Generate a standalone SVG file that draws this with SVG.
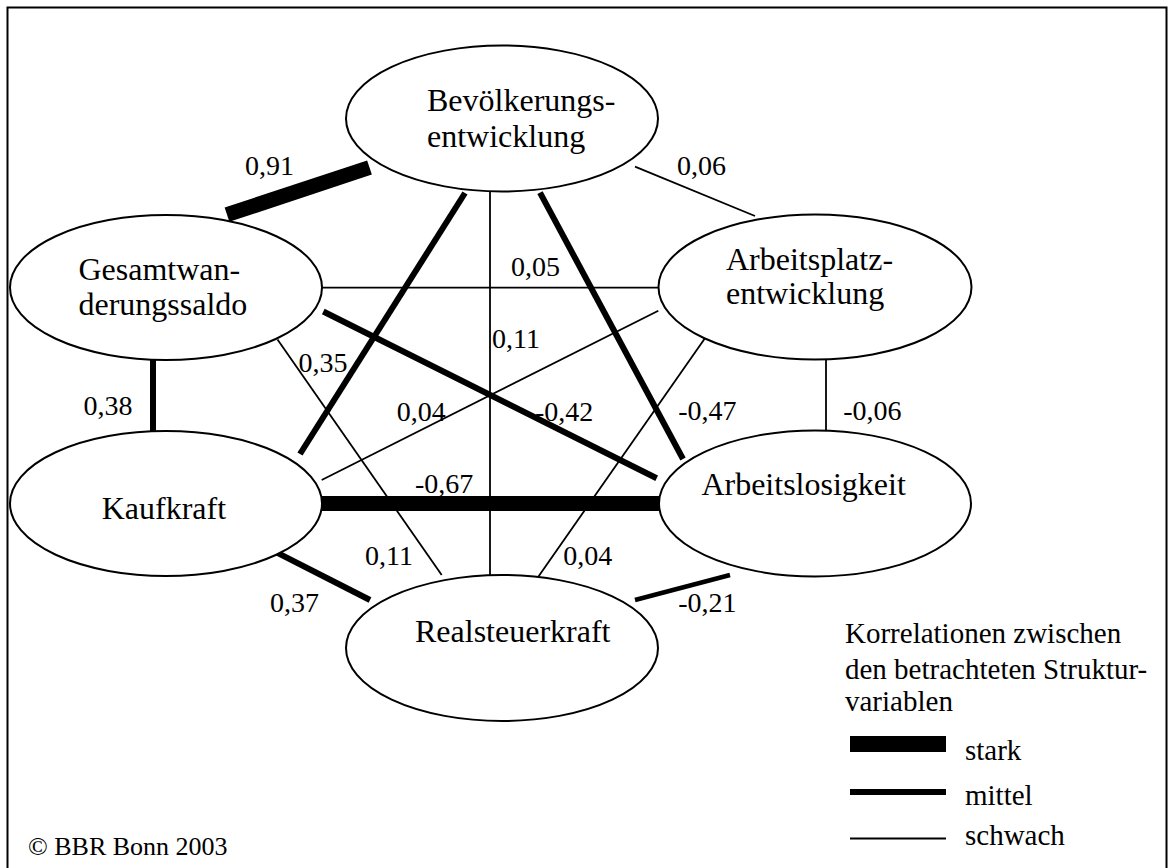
<svg xmlns="http://www.w3.org/2000/svg" width="1175" height="868" viewBox="0 0 1175 868">
<style>
text{font-family:"Liberation Serif","Times New Roman",serif;fill:#000}
.node{font-size:32px}
.lbl{font-size:28px}
.leg{font-size:29px}
.copy{font-size:26px}
ellipse{fill:#fff;stroke:#000;stroke-width:2}
.stark{stroke:#000;stroke-width:15;fill:none}
.mittel{stroke:#000;stroke-width:6;fill:none}
.schwach{stroke:#000;stroke-width:1.8;fill:none}
</style>
<rect x="7.5" y="7.5" width="1159" height="880" fill="#fff" stroke="#000" stroke-width="2"/>
<g id="connectors">
<line class="stark" x1="227" y1="214.7" x2="369.5" y2="167.5"/>
<line class="schwach" x1="635" y1="166.7" x2="755" y2="216"/>
<line class="mittel" x1="465" y1="193" x2="300" y2="454"/>
<line class="schwach" x1="490" y1="191" x2="490" y2="575"/>
<line class="mittel" x1="540" y1="192.7" x2="683" y2="459"/>
<line class="schwach" x1="322" y1="287.7" x2="658.5" y2="287.7"/>
<line class="mittel" x1="153" y1="360" x2="153" y2="431"/>
<line class="schwach" x1="277.5" y1="339.5" x2="441.7" y2="575"/>
<line class="mittel" x1="323.3" y1="311.5" x2="656.7" y2="478.3"/>
<line class="schwach" x1="658.3" y1="310.7" x2="321.7" y2="480"/>
<line class="schwach" x1="706.7" y1="335.7" x2="538.3" y2="576.7"/>
<line class="schwach" x1="826" y1="359.3" x2="826" y2="431"/>
<line class="stark" x1="322" y1="503.5" x2="659" y2="503.5"/>
<line class="mittel" x1="275" y1="551.7" x2="370" y2="600"/>
<line class="mittel" x1="635" y1="600" x2="730" y2="575" style="stroke-width:4.5"/>
</g>
<g id="node-bevoelkerung">
<ellipse cx="502" cy="118.5" rx="156" ry="73"/>
<text class="node" x="427" y="111">Bevölkerungs-</text>
<text class="node" x="427" y="147">entwicklung</text>
</g>
<g id="node-gesamtwanderung">
<ellipse cx="166" cy="287.5" rx="156" ry="72.5"/>
<text class="node" x="78.5" y="280">Gesamtwan-</text>
<text class="node" x="78.5" y="315">derungssaldo</text>
</g>
<g id="node-arbeitsplatz">
<ellipse cx="815" cy="287" rx="156.5" ry="72.5"/>
<text class="node" x="726" y="270">Arbeitsplatz-</text>
<text class="node" x="726" y="304">entwicklung</text>
</g>
<g id="node-kaufkraft">
<ellipse cx="166" cy="503.5" rx="156" ry="72.5"/>
<text class="node" x="101.7" y="519">Kaufkraft</text>
</g>
<g id="node-arbeitslosigkeit">
<ellipse cx="815" cy="503.5" rx="156" ry="73"/>
<text class="node" x="701.4" y="495">Arbeitslosigkeit</text>
</g>
<g id="node-realsteuerkraft">
<ellipse cx="502" cy="648" rx="156" ry="73"/>
<text class="node" x="415" y="642">Realsteuerkraft</text>
</g>
<g id="labels">
<text class="lbl" x="245" y="175">0,91</text>
<text class="lbl" x="677" y="175">0,06</text>
<text class="lbl" x="511" y="276">0,05</text>
<text class="lbl" x="492" y="348">0,11</text>
<text class="lbl" x="298.5" y="372">0,35</text>
<text class="lbl" x="83.4" y="415">0,38</text>
<text class="lbl" x="396.7" y="421">0,04</text>
<text class="lbl" x="535" y="421">-0,42</text>
<text class="lbl" x="678.3" y="420">-0,47</text>
<text class="lbl" x="843.3" y="420">-0,06</text>
<text class="lbl" x="415" y="493">-0,67</text>
<text class="lbl" x="365" y="565">0,11</text>
<text class="lbl" x="563.3" y="565">0,04</text>
<text class="lbl" x="270" y="612">0,37</text>
<text class="lbl" x="678.3" y="612">-0,21</text>
</g>
<g id="legend">
<text class="leg" x="845" y="643">Korrelationen zwischen</text>
<text class="leg" x="845" y="679">den betrachteten Struktur-</text>
<text class="leg" x="845" y="711">variablen</text>
<rect x="850" y="736" width="96" height="16" fill="#000"/>
<text class="leg" x="965" y="760">stark</text>
<line class="mittel" x1="850" y1="792" x2="946" y2="792"/>
<text class="leg" x="965" y="805">mittel</text>
<line class="schwach" x1="850" y1="838.5" x2="946" y2="838.5"/>
<text class="leg" x="965" y="845">schwach</text>
</g>
<text class="copy" x="28" y="855">© BBR Bonn 2003</text>
</svg>
